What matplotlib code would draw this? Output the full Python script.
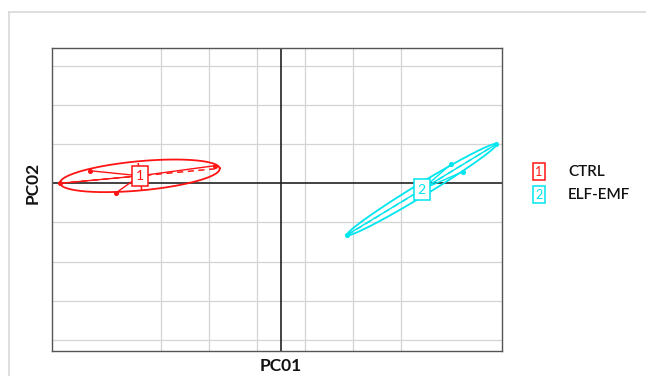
import numpy as np
import matplotlib
matplotlib.use("Agg")
import matplotlib.pyplot as plt
from matplotlib.lines import Line2D

# ---- data (in PC units) ----
groups = ["CTRL", "ELF-EMF"]
group_ids = ["1", "2"]
colors = ["#ff1414", "#00e5ee"]

ctrl_x = [-4.58, -3.97, -3.42, -1.36]
ctrl_y = [0.00, 0.32, -0.24, 0.45]
elf_x = [4.48, 3.53, 3.79, 1.37]
elf_y = [1.00, 0.48, 0.30, -1.32]

# ellipse: centre, end of first axis, end of second axis
ctrl_center = [-2.93, 0.19]
ctrl_axis1 = [-1.27, 0.38]
ctrl_axis2 = [-2.97, 0.56]
elf_center = [2.93, -0.16]
elf_axis1 = [4.48, 1.00]
elf_axis2 = [2.84, -0.04]

x_grid = [-2.5, -1.5, -0.5, 0.5, 1.5, 2.5]
y_grid = [-4, -3, -2, -1, 1, 2, 3]
x_lim = [-4.75, 4.59]
y_lim = [-4.27, 3.45]

xs = [ctrl_x, elf_x]
ys = [ctrl_y, elf_y]
centers = [ctrl_center, elf_center]
axes1 = [ctrl_axis1, elf_axis1]
axes2 = [ctrl_axis2, elf_axis2]

plt.rcParams['font.family'] = ['Lato', 'DejaVu Sans']

fig = plt.figure(figsize=(6.46, 3.76), dpi=100)
ax = fig.add_axes([52.3/646, 1-350.7/376, (501.7-52.3)/646, (350.7-48)/376])
ax.set_xlim(x_lim)
ax.set_ylim(y_lim)
ax.set_xticks(x_grid)
ax.set_yticks(y_grid)
ax.tick_params(length=0, labelbottom=False, labelleft=False)
ax.grid(True, color="#d4d4d4", lw=0.9)
ax.set_axisbelow(True)
for s in ax.spines.values():
    s.set_color("#555555")
    s.set_linewidth(1.0)
ax.axhline(0, color="#222222", lw=1.2, zorder=1)
ax.axvline(0, color="#222222", lw=1.2, zorder=1)

t = np.linspace(0, 2*np.pi, 300)
for gx, gy, c, a1, a2, col, gid in zip(xs, ys, centers, axes1, axes2, colors, group_ids):
    c = np.array(c); a1 = np.array(a1); a2 = np.array(a2)
    u = a1 - c; v = a2 - c
    ex = c[0] + np.cos(t)*u[0] + np.sin(t)*v[0]
    ey = c[1] + np.cos(t)*u[1] + np.sin(t)*v[1]
    ax.plot(ex, ey, color=col, lw=1.3, zorder=3)
    # dashed ellipse axes
    ax.plot([c[0]-u[0], c[0]+u[0]], [c[1]-u[1], c[1]+u[1]], color=col, lw=1.1,
            ls=(0, (4, 3)), zorder=3)
    ax.plot([c[0]-v[0], c[0]+v[0]], [c[1]-v[1], c[1]+v[1]], color=col, lw=1.1,
            ls=(0, (4, 3)), zorder=3)
    # star lines
    for px, py in zip(gx, gy):
        ax.plot([c[0], px], [c[1], py], color=col, lw=1.0, zorder=3)
    ax.scatter(gx, gy, s=7, color=col, zorder=4)
    ax.text(c[0], c[1], gid, color=col, fontsize=10, ha="center", va="center", zorder=5,
            bbox=dict(boxstyle="square,pad=0.3", fc="white", ec=col, lw=1.1))

fig.text(281/646, 1-366/376, "PC01", ha="center", va="center", fontsize=12.5,
         fontweight="bold", color="#111111")
fig.text(33/646, 1-183/376, "PC02", ha="center", va="center", fontsize=12.5,
         fontweight="bold", rotation=90, color="#111111")

# legend
leg_y = [172, 195]
for gid, name, col, yy in zip(group_ids, groups, colors, leg_y):
    fig.text(539/646, 1-yy/376, gid, ha="center", va="center", fontsize=9, color=col,
             bbox=dict(boxstyle="square,pad=0.2", fc="white", ec=col, lw=1.1))
    fig.text(568/646, 1-yy/376, name, ha="left", va="center", fontsize=11,
             fontweight="semibold", color="#111111")

# outer border
fig.add_artist(Line2D([9/646, 1], [1-12.3/376, 1-12.3/376], color="#d8d8d8", lw=1.2))
fig.add_artist(Line2D([9/646, 9/646], [0, 1-12.3/376], color="#d8d8d8", lw=1.2))

fig.savefig("out.png", dpi=100)
